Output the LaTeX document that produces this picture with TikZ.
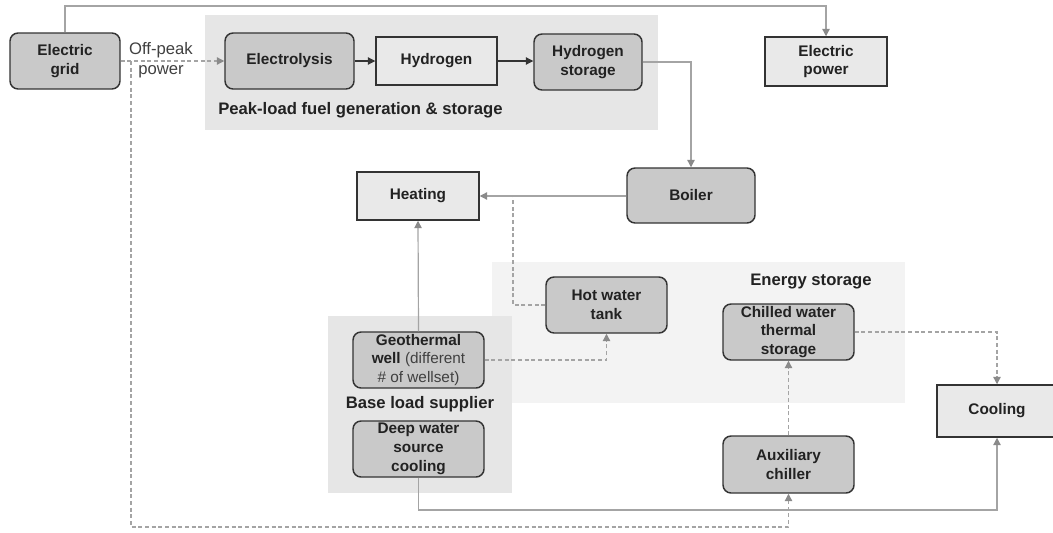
\documentclass[tikz,border=0pt]{standalone}
\usepackage{fontspec}
\setmainfont{Liberation Sans}
\usetikzlibrary{arrows.meta}
\definecolor{boxdark}{HTML}{C9C9C9}
\definecolor{boxlight}{HTML}{E9E9E9}
\definecolor{grpA}{HTML}{E6E6E6}
\definecolor{grpB}{HTML}{F3F3F3}
\definecolor{lineg}{HTML}{A4A4A4}
\definecolor{tipg}{HTML}{8A8A8A}
\definecolor{txt}{HTML}{222222}
\definecolor{edge}{HTML}{333333}
\tikzset{
  boxfont/.style={font=\bfseries\fontsize{11.5}{14}\selectfont, text=txt},
  dbox/.style={draw=edge, fill=boxdark, rounded corners=6pt, line width=1.1pt, align=center, inner sep=0pt, boxfont},
  lbox/.style={draw=edge, fill=boxlight, line width=1.1pt, align=center, inner sep=0pt, boxfont},
  grplabel/.style={font=\bfseries\fontsize{12.5}{15}\selectfont, text=txt, inner sep=0pt},
  conn/.style={draw=lineg, line width=0.9pt, -{Triangle[length=5.5pt,width=5.5pt,color=tipg]}},
  dconn/.style={conn, dashed, dash pattern=on 3pt off 2pt},
  dline/.style={draw=lineg, line width=0.9pt, dashed, dash pattern=on 3pt off 2pt},
  darkconn/.style={draw=edge, line width=0.8pt, -{Triangle[length=5.5pt,width=5.5pt]}},
  sz/.style 2 args={minimum width={#1*0.75pt}, minimum height={#2*0.75pt}}
}
\begin{document}
\begin{tikzpicture}[x=0.75pt,y=-0.75pt]
\useasboundingbox (0,0) rectangle (1053,532);
% group backgrounds
\fill[grpA] (205,15) rectangle (658,130);
\fill[grpB] (492,262) rectangle (905,403);
\fill[grpA] (328,316) rectangle (512,493);

% coordinates for routing
\coordinate (top) at (0,6);
\coordinate (bot) at (0,527);
\coordinate (bot2) at (0,510);
\coordinate (br) at (131,61);
\coordinate (j1) at (513,196);

% nodes
\node[dbox, sz={110}{56}] (grid) at (65,61) {Electric\\grid};
\node[dbox, sz={129}{56}] (elec) at (289.5,61) {Electrolysis};
\node[lbox, fill=boxlight, sz={121}{48}] (hyd) at (436.5,61) {Hydrogen};
\node[dbox, sz={108}{56}] (hstore) at (588,62) {Hydrogen\\storage};
\node[lbox, sz={122}{49}] (epower) at (826,61.5) {Electric\\power};
\node[dbox, sz={128}{55}] (boiler) at (691,195.5) {Boiler};
\node[lbox, sz={122}{48}] (heating) at (418,196) {Heating};
\node[dbox, sz={121}{56}] (hot) at (606.5,305) {Hot water\\tank};
\node[dbox, sz={131}{56}] (geo) at (418.5,360) {Geothermal\\well {\mdseries\color{black!75}(different}\\{\mdseries\color{black!75}\# of wellset)}};
\node[dbox, sz={131}{56}] (deep) at (418.5,449) {Deep water\\source\\cooling};
\node[dbox, sz={131}{56}] (chill) at (788.5,332) {Chilled water\\thermal\\storage};
\node[dbox, sz={131}{57}] (aux) at (788.5,464.5) {Auxiliary\\chiller};
\node[lbox, sz={120}{52}] (cool) at (997,411) {Cooling};

% labels
\node[grplabel, anchor=west] (lpeak) at (218,110) {Peak-load fuel generation \& storage};
\node[grplabel] (lenergy) at (811,282) {Energy storage};
\node[grplabel] (lbase) at (420,404) {Base load supplier};
\node[font=\fontsize{12.5}{15}\selectfont, text=black!75, align=center, inner sep=0pt] (offpeak) at (161,60) {Off-peak\\power};

% connectors
\draw[conn] (grid.north) -- (grid.north |- top) -- (epower.north |- top) -- (epower.north);
\draw[dconn] (grid.east) -- (elec.west);
\draw[dconn] (br) -- (br |- bot) -| (aux.south);
\draw[darkconn] (elec.east) -- (hyd.west);
\draw[darkconn] (hyd.east) -- (hyd.east -| hstore.west);
\draw[conn] (hstore.east) -| (boiler.north);
\draw[conn] (boiler.west |- heating.east) -- (heating.east);
\draw[dline] (hot.west) -| (j1);
\draw[conn] (geo.north) -- (heating.south);
\draw[dconn] (geo.east) -| (hot.south);
\draw[dconn] (chill.east) -| (cool.north);
\draw[dconn] (aux.north) -- (chill.south);
\draw[conn] (deep.south) -- (deep.south |- bot2) -| (cool.south);
\end{tikzpicture}
\end{document}
